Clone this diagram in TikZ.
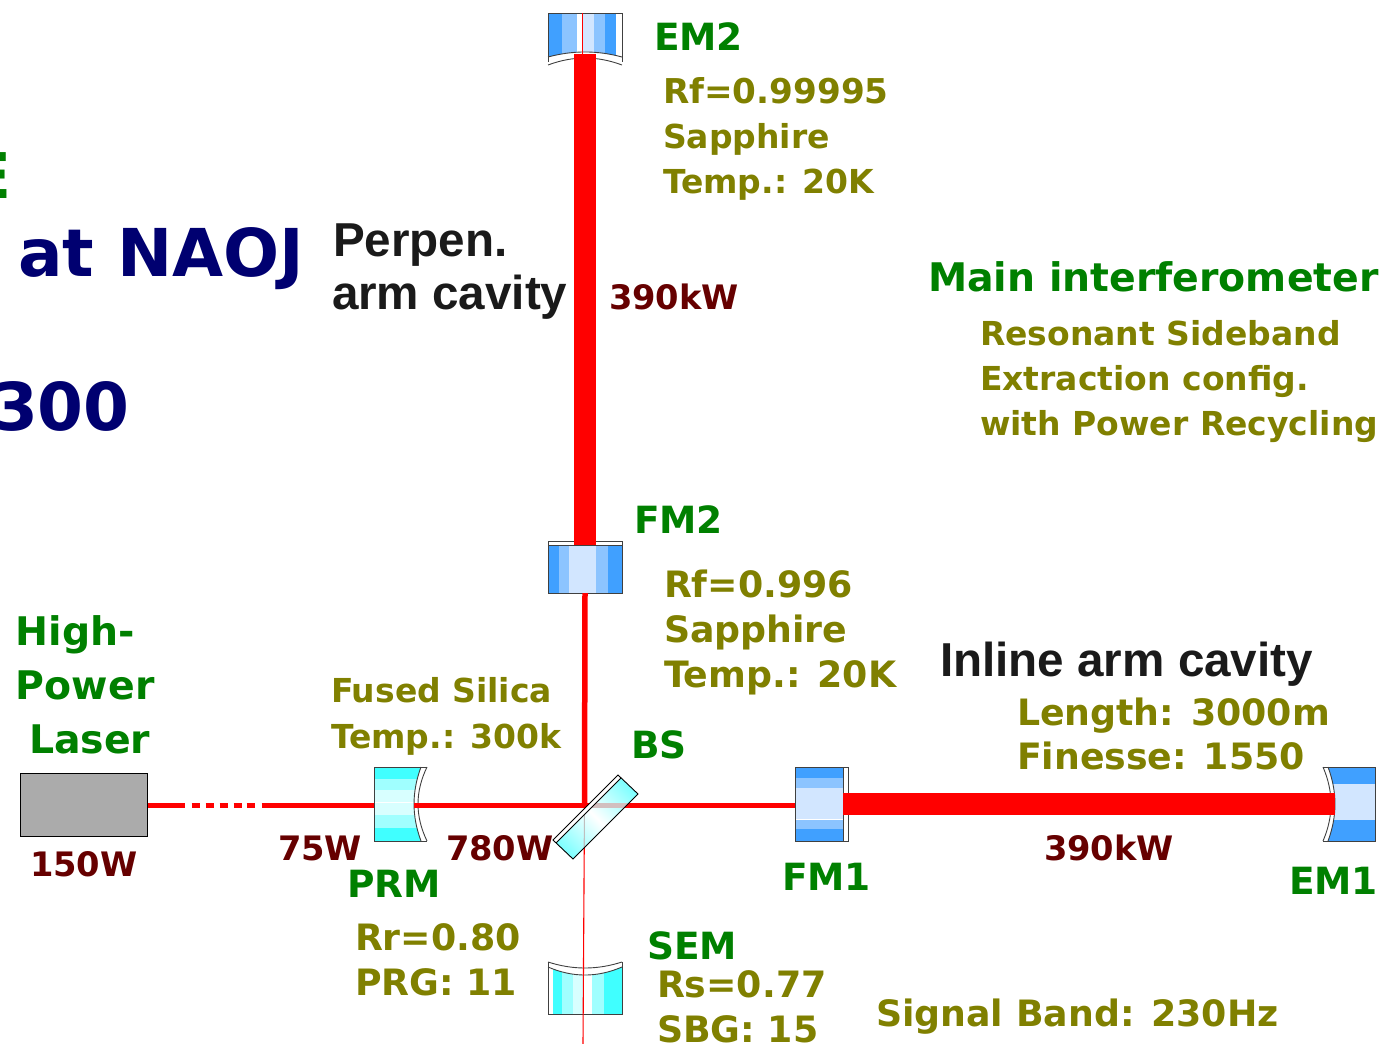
\documentclass[tikz,border=0pt]{standalone}
\usepackage{fontspec}
\setmainfont{DejaVu Sans}
\newfontfamily\blackfont{Liberation Sans}
\usetikzlibrary{calc,positioning}
\definecolor{labgreen}{HTML}{008000}
\definecolor{laboliv}{HTML}{808000}
\definecolor{labred}{HTML}{660000}
\definecolor{labnavy}{HTML}{000070}
\definecolor{labblack}{HTML}{1A1A1A}
\definecolor{bl1}{HTML}{40A0FF}
\definecolor{bl2}{HTML}{8CC4FF}
\definecolor{bl3}{HTML}{D2E6FF}
\definecolor{cy1}{HTML}{40FFFF}
\definecolor{cy2}{HTML}{A0FFFF}
\definecolor{cy3}{HTML}{D8FFFF}
\pgfdeclarehorizontalshading{bsglass}{100bp}{color(0bp)=(cy1!70!white); color(22bp)=(cy1!70!white); color(50bp)=(white); color(78bp)=(cy1!70!white); color(100bp)=(cy1!70!white)}
\begin{document}
\begin{tikzpicture}[x=1pt,y=-1pt,
    lab/.style={anchor=base west,inner sep=0pt,outer sep=0pt,font=\bfseries\fontsize{#1}{#1}\selectfont},
    blacklab/.style={anchor=base west,inner sep=0pt,outer sep=0pt,labblack,font=\blackfont\bfseries\fontsize{47.6}{47.6}\selectfont},
    mirror/.style={inner sep=0pt,outer sep=0pt,minimum width=#1},
    edgeline/.style={draw=black!75,line width=0.9pt},
    beamthin/.style={red,line width=5.5pt},
    beamthick/.style={red,line width=22pt},
    beamhair/.style={red,line width=1.1pt}]
  \useasboundingbox (0,0) rectangle (1384,1044);
  \clip (0,0) rectangle (1384,1044);
  % anchors of the mirrors (body only)
  \coordinate (BSc) at (584.5,805.5);
  \coordinate (SEMend) at (583,1044);
  \node[mirror=74pt,minimum height=41pt] (EM2) at (585,33.5) {};
  \node[mirror=74pt,minimum height=48pt] (FM2) at (585,569) {};
  \node[mirror=74pt,minimum height=40pt] (SEM) at (585,995) {};
  \node[mirror=40pt,minimum height=74pt] (PRM) at (394,804) {};
  \node[mirror=48pt,minimum height=74pt] (FM1) at (819,804) {};
  \node[mirror=40pt,minimum height=74pt] (EM1) at (1355,804) {};
  \node[draw=black,line width=1pt,fill=black!33,minimum width=127pt,minimum height=63pt,inner sep=0pt] (laser) at (83.5,805) {};
  % EM2
  \begin{scope}
    \clip (548,13) -- (622,13) -- (622,57) .. controls (597,50.3) and (573,50.3) .. (548,57) -- cycle;
    \foreach \a/\b/\c in {549/562/bl1,562/577/bl2,582/594/bl3,594/605/bl2,605/616/bl1}
      \fill[\c] (\a,13) rectangle (\b,60);
  \end{scope}
  \draw[edgeline] (548,62) -- (548,13) -- (622,13) -- (622,62);
  \draw[edgeline] (548,57) .. controls (573,50.3) and (597,50.3) .. (622,57);
  \draw[edgeline] (548,65) .. controls (573,55.7) and (597,55.7) .. (622,65);
  % SEM
  \begin{scope}
    \clip (548,967) .. controls (573,977.7) and (597,977.7) .. (622,967) -- (622,1014) -- (548,1014) -- cycle;
    \foreach \a/\b/\c in {553/562/cy1,562/573/cy2,573/583/cy3,592/604/cy2,604/622/cy1}
      \fill[\c] (\a,960) rectangle (\b,1014);
  \end{scope}
  \draw[edgeline] (548,962) -- (548,1014) -- (622,1014) -- (622,962);
  \draw[edgeline] (548,962) .. controls (573,970) and (597,970) .. (622,962);
  \draw[edgeline] (548,967) .. controls (573,977.7) and (597,977.7) .. (622,967);
  % FM2
  \foreach \a/\b/\c in {548/559/bl1,559/569/bl2,569/596/bl3,596/608/bl2,608/622/bl1}
    \fill[\c] (\a,545) rectangle (\b,593);
  \draw[edgeline] (548,541) rectangle (622,593);
  \draw[edgeline] (548,545) -- (622,545);
  % FM1
  \foreach \a/\b/\c in {767/778/bl1,778/788/bl2,788/819/bl3,820/829/bl2,829/841/bl1}
    \fill[\c] (795,\a) rectangle (843,\b);
  \draw[edgeline] (795,767) rectangle (848,841);
  \draw[edgeline] (843,767) -- (843,841);
  % EM1
  \begin{scope}
    \clip (1328,767) .. controls (1337.3,792) and (1337.3,816) .. (1328,841) -- (1375,841) -- (1375,767) -- cycle;
    \foreach \a/\b/\c in {767/784/bl1,784/820/bl3,820/841/bl1}
      \fill[\c] (1320,\a) rectangle (1375,\b);
  \end{scope}
  \draw[edgeline] (1323,767) -- (1375,767) -- (1375,841) -- (1323,841);
  \draw[edgeline] (1328,767) .. controls (1337.3,792) and (1337.3,816) .. (1328,841);
  \draw[edgeline] (1323,767) .. controls (1333.7,792) and (1333.7,816) .. (1323,841);
  % PRM
  \begin{scope}
    \clip (374,767) -- (421,767) .. controls (411.7,792) and (411.7,816) .. (421,841) -- (374,841) -- cycle;
    \foreach \a/\b/\c in {767/779/cy1,779/790/cy2,790/802/cy3,803/815/cy3,815/828/cy2,828/841/cy1}
      \fill[\c] (370,\a) rectangle (425,\b);
  \end{scope}
  \draw[edgeline] (427,767) -- (374,767) -- (374,841) -- (427,841);
  \draw[edgeline] (421,767) .. controls (411.7,792) and (411.7,816) .. (421,841);
  \draw[edgeline] (427,767) .. controls (415,792) and (415,816) .. (427,841);
  % beams
  \draw[beamthick] (EM2.south) -- (FM2.north);
  \draw[beamthick] (FM1.east) -- (EM1.west);
  \draw[beamthin] (FM2.south) -- (BSc);
  \draw[beamthin] (PRM.east |- BSc) -- (FM1.west |- BSc);
  \draw[beamthin,dash pattern=on 37pt off 7pt on 8pt off 6pt on 8pt off 6pt on 8pt off 6pt on 8pt off 5pt on 8pt off 7pt on 200pt] (laser.east |- BSc) -- (PRM.west |- BSc);
  \draw[beamhair] (EM2.north -| 582.5,0) -- (EM2.south -| 582.5,0);
  \draw[beamhair] (BSc) -- (SEMend);
  % beam splitter
  \fill[white] (618,775) -- (621,778) -- (556,843) -- (553,840) -- cycle;
  \begin{scope}
    \clip (621,778) -- (638,794) -- (573,859) -- (556,843) -- cycle;
    \shade[shading=bsglass,shading angle=45] (553,775) rectangle (638,859);
    \draw[line width=5.5pt,color=red!30!black!25] (BSc) -- (FM1.west |- BSc);
    \draw[line width=1.1pt,color=black!25] (BSc) -- (SEMend);
  \end{scope}
  \draw[black,line width=.9pt] (618,775) -- (638,794) -- (573,859) -- (553,840) -- cycle;
  \draw[black,line width=.9pt] (621,778) -- (556,843);
  % labels
  \foreach \n/\x/\y/\t in {tEMtwo/654/50/EM2,tFMtwo/634/533/FM2,tBS/631/758/BS,tPRM/347/897/PRM,tFMone/782/890/FM1,tEMone/1289/894/EM1,tSEM/647/959/SEM}
    \node[lab=37.5,labgreen] (\n) at (\x,\y) {\t};
  \foreach \n/\x/\y/\t in {tHigh/16/645/High-,tPower/16/699/Power,tLaser/29/753/Laser,tMain/928/291/Main interferometer}
    \node[lab=39.4,labgreen] (\n) at (\x,\y) {\t};
  \node[lab=63,labgreen] (tE) at (-31,198) {E};
  \foreach \n/\x/\y/\t in {a2/663/148/Sapphire,a3/663/193/Temp.: 20K,b1/980/345/Resonant Sideband,b2/980/390/Extraction config.,b3/980/435/with Power Recycling,e1/331/702/Fused Silica,e2/331/748/Temp.: 300k}
    \node[lab=33,laboliv] (\n) at (\x,\y) {\t};
  \node[lab=34.2,laboliv] (a1) at (663,103) {Rf=0.99995};
  \foreach \n/\x/\y/\t in {c1/664/597/Rf=0.996,c2/664/642/Sapphire,c3/664/687/Temp.: 20K,d1/1017/725/Length: 3000m,d2/1017/769/Finesse: 1550,f1/355/950/Rr=0.80,f2/355/995/PRG: 11,g1/657/997/Rs=0.77,g2/657/1042/SBG: 15,h1/876/1026/Signal Band: 230Hz}
    \node[lab=36.3,laboliv] (\n) at (\x,\y) {\t};
  \foreach \n/\x/\y/\t in {p1/609/309/390kW,p2/1044/860/390kW,p3/30/876/150W,p4/278/860/75W,p5/446/860/780W}
    \node[lab=33.7,labred] (\n) at (\x,\y) {\t};
  \foreach \n/\x/\y/\t in {tNaoj/18/276/at NAOJ,tNum/-8/430/300}
    \node[lab=66,labnavy] (\n) at (\x,\y) {\t};
  \foreach \n/\x/\y/\t in {tPerpen/333/256/Perpen.,tArm/332/309/arm cavity,tInline/940/676/Inline arm cavity}
    \node[blacklab] (\n) at (\x,\y) {\t};
\end{tikzpicture}
\end{document}
